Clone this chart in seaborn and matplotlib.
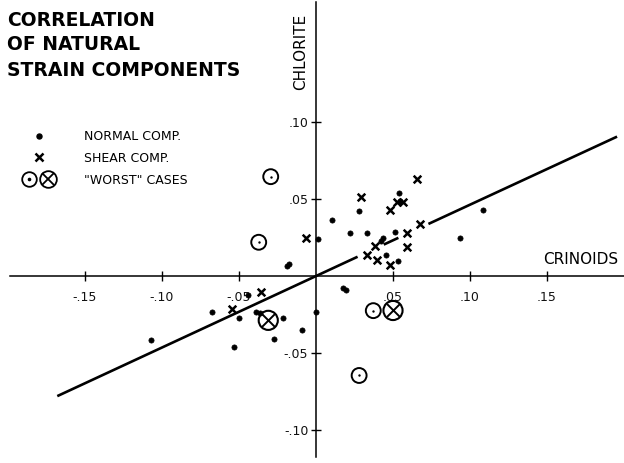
import numpy as np
import matplotlib
matplotlib.use("Agg")
import matplotlib.pyplot as plt
import seaborn as sns
from matplotlib.lines import Line2D
from matplotlib.legend_handler import HandlerTuple

# ----------------------------
# Data
# ----------------------------
normal_x = [-0.1073, -0.0677, -0.0532, -0.0498, -0.0440, -0.0392, -0.0362, -0.0273,
            -0.0212, -0.0091, 0.0000, 0.0175, 0.0193, -0.0187, -0.0177, 0.0015,
            0.0102, 0.0221, 0.0279, 0.0329, 0.0420, 0.0435, 0.0455, 0.0513,
            0.0535, 0.0541, 0.0545, 0.0935, 0.1084]
normal_y = [-0.0416, -0.0236, -0.0463, -0.0275, -0.0123, -0.0232, -0.0242, -0.0409,
            -0.0271, -0.0353, -0.0236, -0.0076, -0.0088, 0.0065, 0.0077, 0.0242,
            0.0362, 0.0281, 0.0424, 0.0277, 0.0228, 0.0245, 0.0136, 0.0288,
            0.0099, 0.0541, 0.0485, 0.0249, 0.0429]

shear_x = [-0.0543, -0.0359, -0.0065, 0.0290, 0.0333, 0.0383, 0.0398, 0.0480,
           0.0480, 0.0528, 0.0567, 0.0589, 0.0589, 0.0658, 0.0675]
shear_y = [-0.0214, -0.0102, 0.0247, 0.0511, 0.0136, 0.0197, 0.0104, 0.0429,
           0.0071, 0.0482, 0.0482, 0.0281, 0.0190, 0.0628, 0.0336]

worst_normal_x = [-0.0294, -0.0372, 0.0372, 0.0280]
worst_normal_y = [0.0645, 0.0219, -0.0225, -0.0646]
worst_shear_x = [-0.0310, 0.0500]
worst_shear_y = [-0.0288, -0.0224]

# fitted line, drawn broken where it passes the points
fit_x = [[-0.168, 0.027], [0.044, 0.0535], [0.073, 0.1955]]
fit_y = [[-0.078, 0.0125], [0.0204, 0.0248], [0.0338, 0.0905]]

x_ticks = [-0.15, -0.10, -0.05, 0.05, 0.10, 0.15]
x_tick_labels = ["-.15", "-.10", "-.05", ".05", ".10", ".15"]
y_ticks = [-0.10, -0.05, 0.05, 0.10]
y_tick_labels = ["-.10", "-.05", ".05", ".10"]

# ----------------------------
# Figure
# ----------------------------
sns.set_style("white")
plt.rcParams["font.family"] = ["DejaVu Sans"]
plt.rcParams["text.color"] = "black"

W, H = 624, 463
fig = plt.figure(figsize=(W / 100, H / 100), dpi=100)
ax = fig.add_axes([0, 0, 1, 1])
ax.set_xlim(-316 / 1540, 308 / 1540)
ax.set_ylim(-187 / 1540, 276 / 1540)

# axes through the origin
for side in ["top", "right"]:
    ax.spines[side].set_visible(False)
ax.spines["left"].set_position("zero")
ax.spines["bottom"].set_position("zero")
ax.spines["left"].set_bounds(-0.1175, 0.178)
ax.spines["bottom"].set_bounds(-0.199, 0.2)
for side in ["left", "bottom"]:
    ax.spines[side].set_color("black")
    ax.spines[side].set_linewidth(1.1)

ax.set_xticks(x_ticks)
ax.set_xticklabels(x_tick_labels)
ax.set_yticks(y_ticks)
ax.set_yticklabels(y_tick_labels)
ax.tick_params(axis="both", direction="inout", length=7, width=1, color="black",
               labelsize=9, labelcolor="#111111")
ax.tick_params(axis="x", pad=7)
ax.tick_params(axis="y", pad=2)
ax.xaxis.set_ticks_position("bottom")
ax.yaxis.set_ticks_position("left")

# fitted line
for sx, sy in zip(fit_x, fit_y):
    ax.plot(sx, sy, color="black", lw=1.9, solid_capstyle="butt", zorder=2)

# points
sns.scatterplot(x=normal_x, y=normal_y, ax=ax, marker="o", s=14, color="black",
                edgecolor="black", linewidth=0.5, zorder=3)
sns.scatterplot(x=shear_x, y=shear_y, ax=ax, marker="x", s=30, color="black",
                linewidth=1.8, zorder=3)
sns.scatterplot(x=worst_normal_x, y=worst_normal_y, ax=ax, marker="o", s=115,
                facecolor="none", edgecolor="black", linewidth=1.4, zorder=3)
sns.scatterplot(x=worst_normal_x, y=worst_normal_y, ax=ax, marker="o", s=3,
                color="black", linewidth=0, zorder=3)
sns.scatterplot(x=worst_shear_x, y=worst_shear_y, ax=ax, marker="o", s=190,
                facecolor="none", edgecolor="black", linewidth=1.5, zorder=3)
sns.scatterplot(x=worst_shear_x, y=worst_shear_y, ax=ax, marker="x", s=85,
                color="black", linewidth=1.4, zorder=3)

# axis names
fig.text(581 / W, 1 - 259 / H, "CRINOIDS", fontsize=11, ha="center",
         va="center", color="black")
fig.text(301 / W, 1 - 52 / H, "CHLORITE", fontsize=11, rotation=90,
         ha="center", va="center", color="black")

# title
title_lines = ["CORRELATION", "OF NATURAL", "STRAIN COMPONENTS"]
for line, yc in zip(title_lines, [21, 45, 70]):
    fig.text(7 / W, 1 - yc / H, line, fontsize=13.5, fontweight="bold",
             ha="left", va="center", color="black")

# legend
h_normal = Line2D([], [], ls="", marker="o", ms=3.6, color="black")
h_shear = Line2D([], [], ls="", marker="x", ms=5.5, mew=1.8, color="black")
c1 = Line2D([], [], ls="", marker="o", ms=10.5, mfc="none", mec="black", mew=1.3)
c2 = Line2D([], [], ls="", marker="o", ms=12, mfc="none", mec="black", mew=1.3)
d1 = Line2D([], [], ls="", marker="o", ms=1.6, color="black")
x2 = Line2D([], [], ls="", marker="x", ms=8, mew=1.3, color="black")
ax.legend([h_normal, h_shear, (c1, c2, d1, x2)],
          ["NORMAL COMP.", "SHEAR COMP.", "\"WORST\" CASES"],
          handler_map={tuple: HandlerTuple(ndivide=2, pad=0.1)},
          loc="upper left", bbox_to_anchor=(20 / W, 1 - 130 / H),
          bbox_transform=fig.transFigure, frameon=False, fontsize=9,
          handlelength=3.0, handletextpad=2.1, labelspacing=0.7,
          borderaxespad=0, borderpad=0, labelcolor="black")

fig.savefig("out.png", dpi=100)
